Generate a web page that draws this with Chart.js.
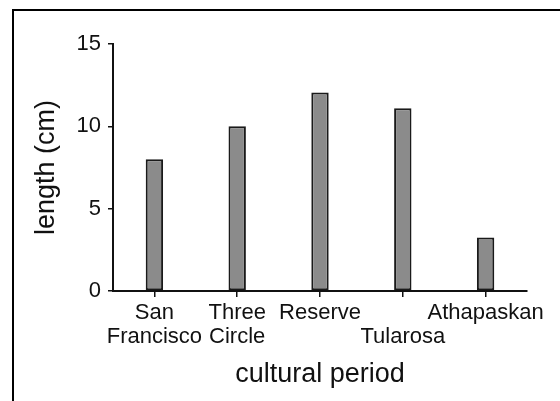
<!DOCTYPE html>
<html>
<head>
<meta charset="utf-8">
<script src="https://cdn.jsdelivr.net/npm/chart.js@4"></script>
<style>
  html, body { margin: 0; padding: 0; background: #fff; }
  #wrap { position: relative; width: 560px; height: 401px; }
  #frame {
    position: absolute; left: 12px; top: 9px; right: 0; bottom: 0;
    border-top: 2px solid #000; border-left: 2px solid #000;
    pointer-events: none;
  }
</style>
</head>
<body>
<div id="wrap">
  <canvas id="chart" width="560" height="401"></canvas>
  <div id="frame"></div>
</div>
<script>
// values
const periods = [["San", "Francisco"], ["Three", "Circle"], "Reserve", ["", "Tularosa"], "Athapaskan"];
const lengths = [8.0, 10.0, 12.05, 11.1, 3.25];
const yTicks = [0, 5, 10, 15];

const font = "'Liberation Sans', Arial, sans-serif";
const ink = "#111";

new Chart(document.getElementById("chart"), {
  type: "bar",
  data: {
    labels: periods,
    datasets: [
      {
        label: "length",
        data: lengths,
        backgroundColor: "#8b8b8b",
        borderColor: "#1a1a1a",
        borderWidth: 2,
        borderSkipped: false,
        barPercentage: 0.21,
        categoryPercentage: 1,
      },
    ],
  },
  options: {
    responsive: false,
    animation: false,
    layout: { padding: { top: 44, right: 33, left: 0, bottom: 0 } },
    plugins: { legend: { display: false }, tooltip: { enabled: false } },
    scales: {
      x: {
        grid: { display: true, drawOnChartArea: false, offset: false, tickLength: 6, color: ink, lineWidth: 1.5 },
        border: { display: true, color: ink, width: 2 },
        ticks: { color: ink, padding: 4, maxRotation: 0, autoSkip: false, font: { family: font, size: 22, lineHeight: 1.08 } },
        title: { display: true, text: "cultural period", color: ink, padding: { top: 0, bottom: 10 }, font: { family: font, size: 27 } },
        afterFit: (scale) => { scale.height = 110; },
      },
      y: {
        min: 0,
        max: 15,
        afterBuildTicks: (scale) => { scale.ticks = yTicks.map((v) => ({ value: v })); },
        grid: { display: true, drawOnChartArea: false, tickLength: 5, color: ink, lineWidth: 1.5 },
        border: { display: true, color: ink, width: 2 },
        ticks: { color: ink, padding: 7, font: { family: font, size: 22 } },
        title: { display: true, text: "length (cm)", color: ink, padding: { top: 30, bottom: 0 }, font: { family: font, size: 27 } },
        afterFit: (scale) => { scale.width = 113; },
      },
    },
  },
});
</script>
</body>
</html>
